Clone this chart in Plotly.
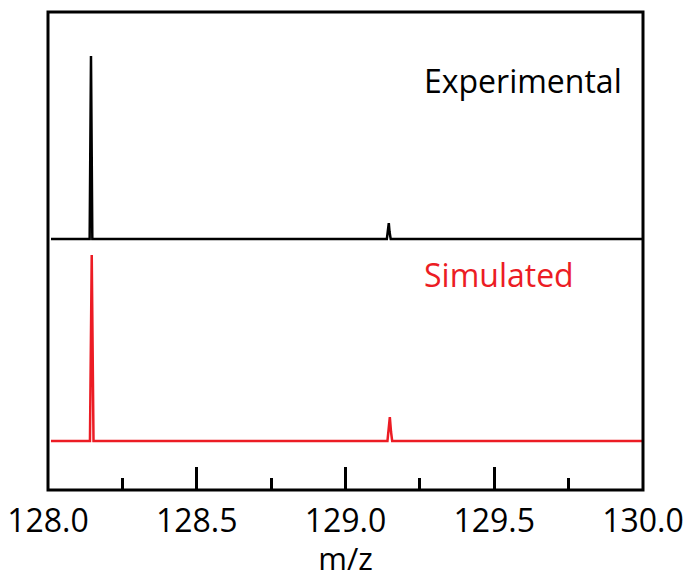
import plotly.graph_objects as go

# Experimental spectrum (m/z, relative intensity)
exp_mz = [128.01, 128.140, 128.1445, 128.149, 129.139, 129.143, 129.1455, 129.148, 129.152, 130.0]
exp_int = [0.0, 0.0, 1.0, 0.0, 0.0, 0.04, 0.087, 0.04, 0.0, 0.0]

# Simulated spectrum
sim_mz = [128.01, 128.141, 128.147, 128.153, 129.141, 129.145, 129.149, 129.153, 129.157, 130.01]
sim_int = [0.0, 0.0, 1.0, 0.0, 0.0, 0.05, 0.129, 0.05, 0.0, 0.0]

x_ticks = [128.0, 128.5, 129.0, 129.5, 130.0]
x_tick_labels = ["128.0", "128.5", "129.0", "129.5", "130.0"]

FONT = "Open Sans"
RED = "#ec1c24"

fig = go.Figure()
fig.add_trace(go.Scatter(x=exp_mz, y=exp_int, mode="lines",
                         line=dict(color="black", width=2.5),
                         xaxis="x", yaxis="y2", showlegend=False))
fig.add_trace(go.Scatter(x=sim_mz, y=sim_int, mode="lines",
                         line=dict(color=RED, width=2.5),
                         xaxis="x", yaxis="y", showlegend=False))

fig.update_layout(
    width=693, height=579,
    margin=dict(l=48, r=50, t=12, b=89, autoexpand=False),
    paper_bgcolor="white", plot_bgcolor="white",
    font=dict(family=FONT, size=32, color="black"),
    xaxis=dict(
        range=[128.0, 130.0], anchor="y", automargin=False,
        tickmode="array", tickvals=x_ticks, ticktext=x_tick_labels,
        ticks="inside", ticklen=23, tickwidth=2.5, tickcolor="black",
        ticklabelstandoff=9,
        minor=dict(dtick=0.25, tick0=128.0, ticks="inside", ticklen=12,
                   tickwidth=2.5, tickcolor="black", showgrid=False),
        showgrid=False, zeroline=False, showline=False,
        tickfont=dict(family=FONT, size=32, color="black"),
        title=dict(text="m/z", font=dict(family=FONT, size=31, color="black"), standoff=11),
    ),
    yaxis=dict(domain=[0.0, 0.51], range=[-0.263, 1.047], automargin=False,
               showticklabels=False, ticks="", showgrid=False,
               zeroline=False, showline=False),
    yaxis2=dict(domain=[0.51, 1.0], range=[-0.039, 1.240], automargin=False,
                showticklabels=False, ticks="", showgrid=False,
                zeroline=False, showline=False, anchor="x"),
    shapes=[dict(type="rect", xref="paper", yref="paper", x0=0, x1=1, y0=0, y1=1,
                 line=dict(color="black", width=3), fillcolor="rgba(0,0,0,0)",
                 layer="above")],
    annotations=[
        dict(text="Experimental", xref="paper", yref="paper", x=0.6286, y=0.857,
             xanchor="left", yanchor="middle", showarrow=False,
             font=dict(family=FONT, size=32, color="black")),
        dict(text="Simulated", xref="paper", yref="paper", x=0.6286, y=0.4498,
             xanchor="left", yanchor="middle", showarrow=False,
             font=dict(family=FONT, size=32, color=RED)),
    ],
)

fig.write_html("out.html")
